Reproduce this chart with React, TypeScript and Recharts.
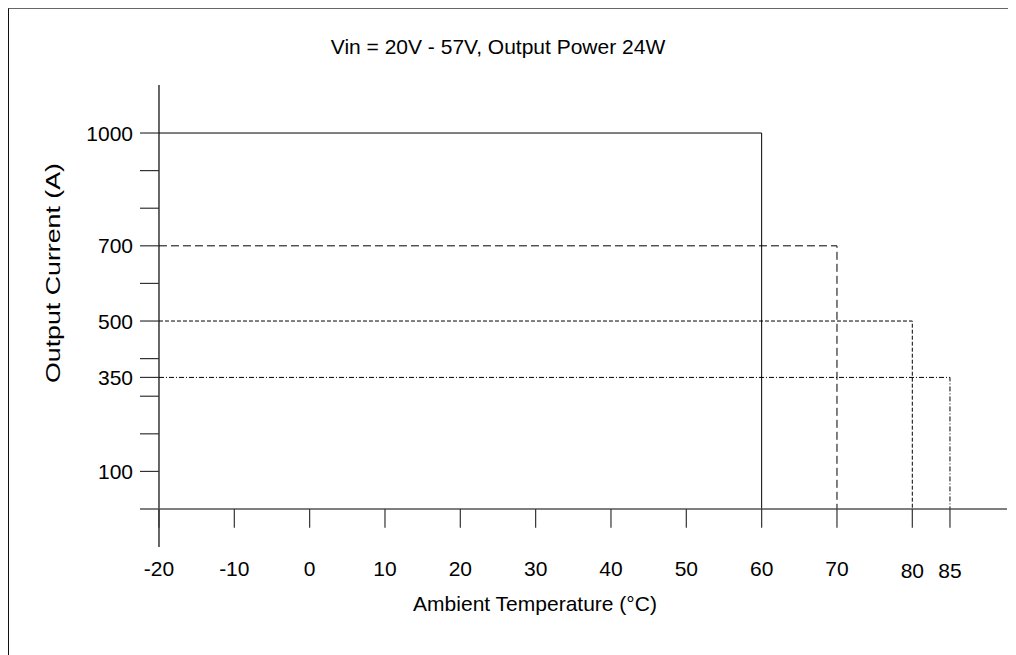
import { LineChart, Line, XAxis, YAxis, ReferenceLine } from 'recharts';

// derating data: rated current holds from START_TEMP up to the cutoff temperature
const START_TEMP = -20;
const RATED_CURRENTS = [1000, 700, 500, 350];
const CUTOFF_TEMPS = [60, 70, 80, 85];

const X_TICKS = [-20, -10, 0, 10, 20, 30, 40, 50, 60, 70, 80, 85];
const Y_LABELS = [100, 350, 500, 700, 1000];
const Y_MARKS = [100, 200, 300, 350, 400, 500, 600, 700, 800, 900, 1000];
const X_DOMAIN = [-22.52, 92.57];
const Y_DOMAIN = [-101, 1127.7];

const TITLE = 'Vin = 20V - 57V, Output Power 24W';
const X_LABEL = 'Ambient Temperature (°C)';
const Y_LABEL = 'Output Current (A)';

const DASHES = [undefined, '8 4', '4 2', '5 2 1 2'];
const FONT = '"Liberation Sans", Arial, Helvetica, sans-serif';

const series = RATED_CURRENTS.map((c, i) => [
  { t: START_TEMP, a: c },
  { t: CUTOFF_TEMPS[i], a: c },
  { t: CUTOFF_TEMPS[i], a: 0 },
]);

function XTick({ x, y, payload }: any) {
  const drop = payload.value >= 80 ? 2 : 0;
  return (
    <text x={x} y={y + 21 + drop} dy="0.36em" textAnchor="middle" fontSize={21} fontFamily={FONT} fill="#000">
      {payload.value}
    </text>
  );
}

function YTick({ x, y, payload }: any) {
  return (
    <text x={x} y={y} dy="0.36em" textAnchor="end" fontSize={21} fontFamily={FONT} fill="#000">
      {payload.value}
    </text>
  );
}

export default function App() {
  return (
    <div
      style={{
        position: 'relative',
        width: 1008,
        height: 660,
        borderTop: '1px solid #666',
        borderLeft: '1px solid #111',
        boxSizing: 'border-box',
      }}
    >
      <style>{'html,body{overflow:hidden}'}</style>
      <div style={{ position: 'absolute', left: 0, top: 0 }}>
        <LineChart width={1007} height={646} margin={{ top: 76, right: 9, left: 71, bottom: 78 }}>
          <XAxis
            dataKey="t"
            type="number"
            domain={X_DOMAIN}
            ticks={X_TICKS}
            interval={0}
            height={30}
            axisLine={false}
            tickLine={false}
            tickSize={0}
            tickMargin={0}
            tick={<XTick />}
          />
          <YAxis
            dataKey="a"
            type="number"
            domain={Y_DOMAIN}
            ticks={Y_LABELS}
            interval={0}
            width={60}
            axisLine={false}
            tickLine={false}
            tickSize={0}
            tickMargin={7}
            tick={<YTick />}
          />
          {series.map((d, i) => (
            <Line
              key={i}
              data={d}
              dataKey="a"
              type="linear"
              stroke="#000"
              strokeWidth={1}
              strokeDasharray={DASHES[i]}
              dot={false}
              activeDot={false}
              isAnimationActive={false}
            />
          ))}
          <ReferenceLine x={START_TEMP} stroke="#000" strokeWidth={1.2} />
          <ReferenceLine y={0} stroke="#555" strokeWidth={1.5} />
          {Y_MARKS.map((v) => (
            <ReferenceLine
              key={'y' + v}
              segment={[{ x: X_DOMAIN[0], y: v }, { x: START_TEMP, y: v }]}
              stroke="#333"
              strokeWidth={1.2}
            />
          ))}
          {X_TICKS.map((t) => (
            <ReferenceLine
              key={'x' + t}
              segment={[{ x: t, y: 0 }, { x: t, y: -50 }]}
              stroke="#333"
              strokeWidth={1.2}
            />
          ))}
        </LineChart>
      </div>
      <svg
        width={1007}
        height={646}
        style={{ position: 'absolute', left: 0, top: 0, pointerEvents: 'none' }}
        fontFamily={FONT}
        fontSize={21}
        fill="#000"
      >
        <text x={489} y={37} dy="0.36em" textAnchor="middle">{TITLE}</text>
        <text x={526} y={594.3} dy="0.36em" textAnchor="middle">{X_LABEL}</text>
        <text
          x={43.5}
          y={264}
          dy="0.36em"
          textAnchor="middle"
          transform="rotate(-90 43.5 264)"
          textLength={220}
          lengthAdjust="spacingAndGlyphs"
        >
          {Y_LABEL}
        </text>
      </svg>
    </div>
  );
}
